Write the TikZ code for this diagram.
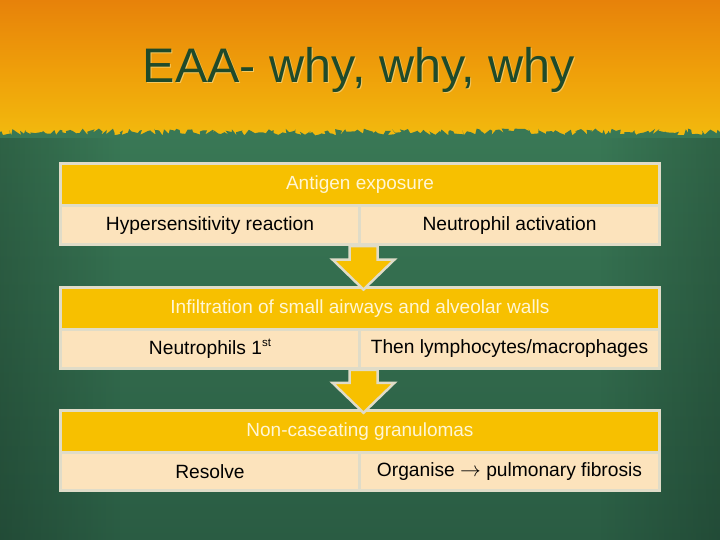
\documentclass[tikz,border=0pt]{standalone}
\usepackage{fontspec}
\setmainfont{Liberation Sans}
\usetikzlibrary{calc,decorations.pathmorphing,fadings}
\definecolor{hdrc}{HTML}{F7C000}
\definecolor{cellc}{HTML}{FCE3BC}
\definecolor{bordc}{HTML}{E0DCC8}
\definecolor{hdrtext}{HTML}{FFF6D5}
\definecolor{topor}{HTML}{E7820A}
\definecolor{topmid}{HTML}{EFA00A}
\definecolor{topyel}{HTML}{F3BD0E}
\definecolor{gtop}{HTML}{3E815B}
\definecolor{gbot}{HTML}{2A5C43}
\definecolor{titlec}{HTML}{1F4A2A}
\definecolor{titlesh}{HTML}{F3C860}
\tikzset{
  hdr/.style={draw=bordc, line width=3pt, fill=hdrc, minimum width=599pt, minimum height=42.5pt,
    inner sep=0pt, text=hdrtext, font=\fontsize{19}{22}\selectfont},
  cell/.style={draw=bordc, line width=3pt, fill=cellc, minimum height=38.5pt,
    inner sep=0pt, text=black, font=\fontsize{19.2}{22}\selectfont},
  lcell/.style={cell, minimum width=299pt},
  rcell/.style={cell, minimum width=300pt},
  blockarrow/.style={draw=bordc, line width=2.5pt, fill=hdrc, line join=miter},
  titlestyle/.style={font=\fontsize{48.5}{54}\selectfont, anchor=base, inner sep=0pt}
}
\begin{document}
\begin{tikzpicture}[x=1pt,y=-1pt]
\useasboundingbox (0,0) rectangle (720,540);
% background
\shade[top color=topor, bottom color=topyel, middle color=topmid] (0,0) rectangle (720,145);
\shade[top color=gtop, bottom color=gbot]
  decorate[decoration={random steps,segment length=2.5pt,amplitude=3.5pt}]{(0,132) -- (720,132)}
  -- (720,540) -- (0,540) -- cycle;
\fill[black, opacity=0.18, path fading=east] (0,138) rectangle (120,540);
\fill[black, opacity=0.18, path fading=west] (600,138) rectangle (720,540);
% title
\node[titlestyle, text=titlesh] (titlesh) at (360,84) {EAA- why, why, why};
\node[titlestyle, text=titlec] (title) at (359,83) {EAA- why, why, why};
% box 1
\node[hdr] (b1h) at (360,184.75) {Antigen exposure};
\node[lcell] (b1l) at (210,225.25) {Hypersensitivity reaction};
\node[rcell] (b1r) at (509.5,225.25) {Neutrophil activation};
% box 2
\node[hdr] (b2h) at (360,308.25) {Infiltration of small airways and alveolar walls};
\node[lcell] (b2l) at (210,349) {Neutrophils 1\raisebox{7.5pt}{\fontsize{11.5}{12}\selectfont st}};
\node[rcell] (b2r) at (509.5,349) {Then lymphocytes/macrophages};
% box 3
\node[hdr] (b3h) at (360,431.75) {Non-caseating granulomas};
\node[lcell] (b3l) at (210,471.5) {Resolve};
\node[rcell] (b3r) at (509.5,471.5) {Organise $\rightarrow$ pulmonary fibrosis};
% arrows
\path (b1l.south east) ++(2.5,0) coordinate (t1);
\path (b2l.south east) ++(2.5,0) coordinate (t2);
\draw[blockarrow] (t1) ++(-14,0) -- ++(0,13.5) -- ++(-17,0) -- ++(31,30) -- ++(31,-30)
  -- ++(-17,0) -- ++(0,-13.5) -- cycle;
\draw[blockarrow] (t2) ++(-14,0) -- ++(0,13) -- ++(-17,0) -- ++(31,30) -- ++(31,-30)
  -- ++(-17,0) -- ++(0,-13) -- cycle;
\end{tikzpicture}
\end{document}
